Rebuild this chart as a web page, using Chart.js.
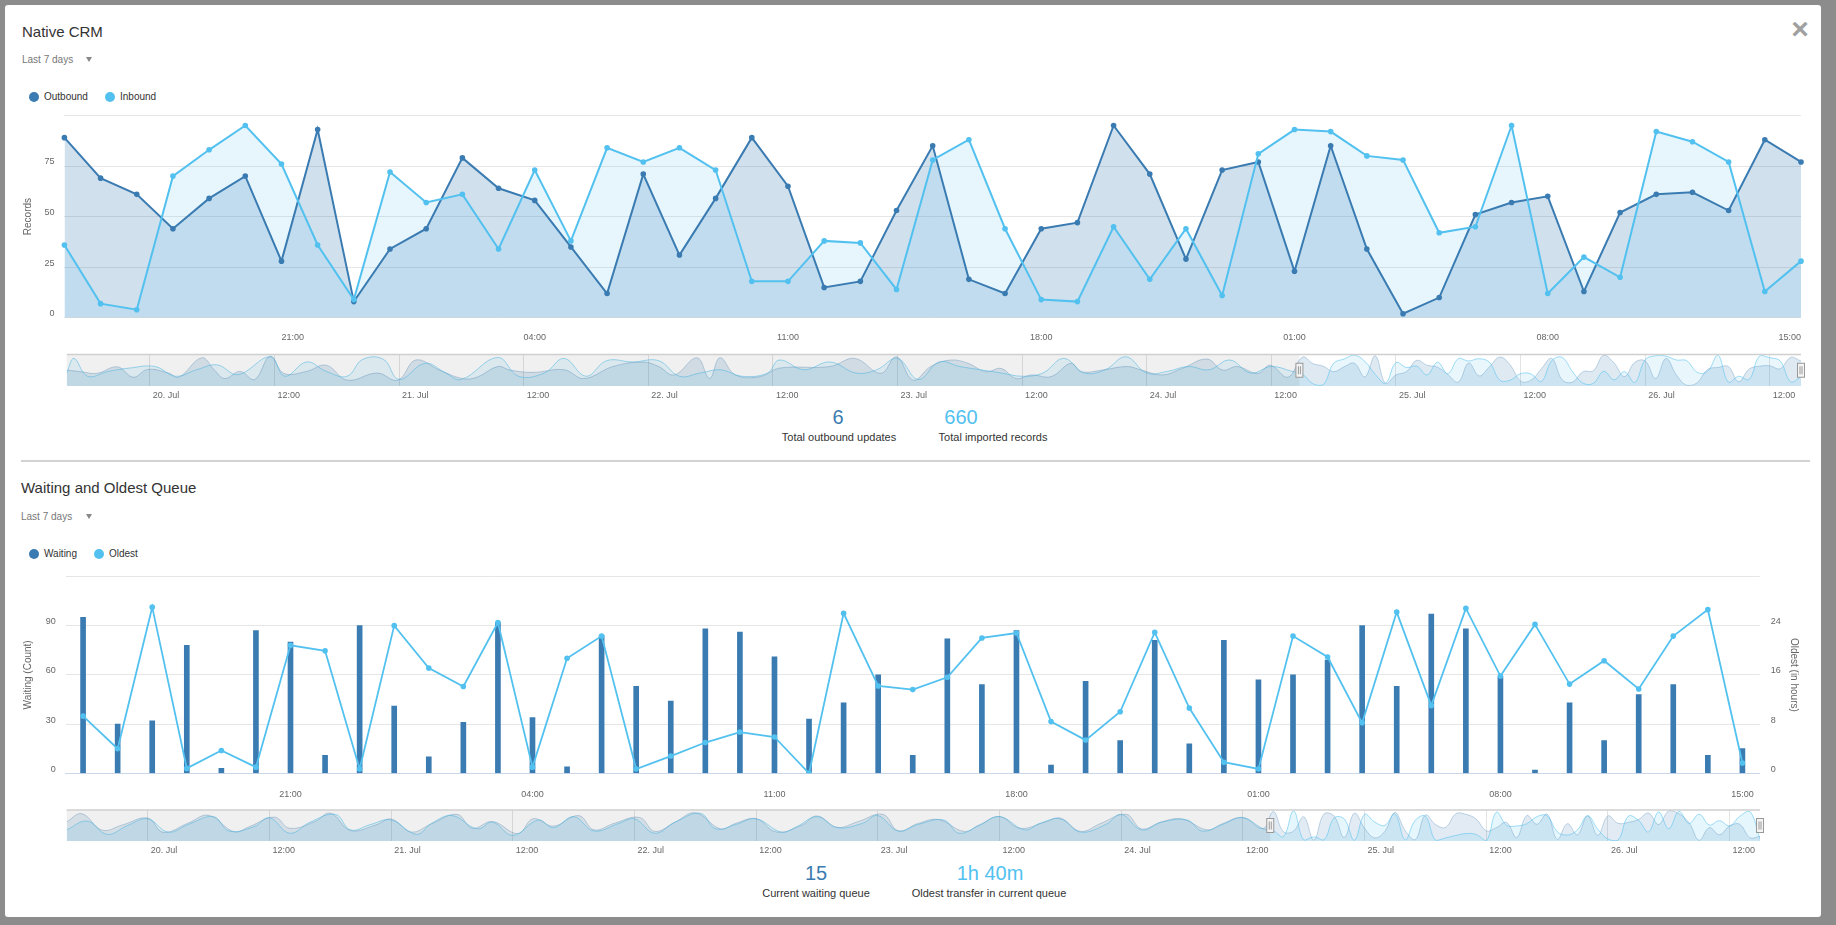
<!DOCTYPE html>
<html><head><meta charset="utf-8">
<script src="https://cdn.jsdelivr.net/npm/chart.js@4.4.1/dist/chart.umd.min.js"></script>
<style>
html,body{margin:0;padding:0;}
body{width:1836px;height:925px;background:#8c8c8c;position:relative;overflow:hidden;font-family:"Liberation Sans",Arial,Helvetica,sans-serif;}
#panel{position:absolute;left:5px;top:5px;width:1816px;height:912px;background:#fff;border-radius:3px;}
.t{position:absolute;white-space:nowrap;line-height:1;}
.lt{transform:translateY(-50%);}
.ct{transform:translate(-50%,-50%);}
.title{font-size:15px;color:#333;}
.range{font-size:10px;color:#777;}
.tri{position:absolute;width:0;height:0;border-left:3.5px solid transparent;border-right:3.5px solid transparent;border-top:5px solid #888;}
.dot{position:absolute;width:10px;height:10px;border-radius:50%;transform:translate(-50%,-50%);}
.leg{font-size:10px;color:#333;}
.num{font-size:20px;}
.lab{font-size:11px;color:#333;}
canvas{position:absolute;left:0;}
#sep{position:absolute;left:21px;top:460px;width:1789px;height:2px;background:#d2d2d2;}
</style>
</head><body>
<div id="panel"></div>
<div id="sep"></div>

<div class="t lt title" style="left:22px;top:31px;">Native CRM</div>
<div class="t lt range" style="left:22px;top:60px;">Last 7 days</div>
<div class="tri" style="left:86px;top:57px;"></div>
<div class="dot" style="left:34px;top:97px;background:#3a7bb1;"></div>
<div class="t lt leg" style="left:44px;top:97px;">Outbound</div>
<div class="dot" style="left:110px;top:97px;background:#52c1ef;"></div>
<div class="t lt leg" style="left:120px;top:97px;">Inbound</div>
<div class="t ct" style="left:1800px;top:29px;font-size:30px;font-weight:bold;color:#a0a0a0;">×</div>

<div class="t ct num" style="left:838px;top:417px;color:#3a7bb1;">6</div>
<div class="t ct lab" style="left:839px;top:437px;">Total outbound updates</div>
<div class="t ct num" style="left:961px;top:417px;color:#52c1ef;">660</div>
<div class="t ct lab" style="left:993px;top:437px;">Total imported records</div>

<div class="t lt title" style="left:21px;top:487px;">Waiting and Oldest Queue</div>
<div class="t lt range" style="left:21px;top:517px;">Last 7 days</div>
<div class="tri" style="left:86px;top:514px;"></div>
<div class="dot" style="left:34px;top:554px;background:#3a7bb1;"></div>
<div class="t lt leg" style="left:44px;top:554px;">Waiting</div>
<div class="dot" style="left:98.5px;top:554px;background:#52c1ef;"></div>
<div class="t lt leg" style="left:109px;top:554px;">Oldest</div>

<div class="t ct num" style="left:816px;top:873px;color:#3a7bb1;">15</div>
<div class="t ct lab" style="left:816px;top:893px;">Current waiting queue</div>
<div class="t ct num" style="left:990px;top:873px;color:#52c1ef;">1h 40m</div>
<div class="t ct lab" style="left:989px;top:893px;">Oldest transfer in current queue</div>

<canvas id="c1" width="1836" height="250" style="top:100px"></canvas>
<canvas id="n1" width="1836" height="62" style="top:348px"></canvas>
<canvas id="c2" width="1836" height="250" style="top:560px"></canvas>
<canvas id="n2" width="1836" height="62" style="top:804px"></canvas>

<script>
// ---------- data ----------
const timeLabels = ["15:00","16:00","17:00","18:00","19:00","20:00","21:00","22:00","23:00","00:00","01:00","02:00","03:00","04:00","05:00","06:00","07:00","08:00","09:00","10:00","11:00","12:00","13:00","14:00","15:00","16:00","17:00","18:00","19:00","20:00","21:00","22:00","23:00","00:00","01:00","02:00","03:00","04:00","05:00","06:00","07:00","08:00","09:00","10:00","11:00","12:00","13:00","14:00","15:00"];
const outbound = [89,69,61,44,59,70,28,93,8,34,44,79,64,58,35,12,71,31,59,89,65,15,18,53,85,19,12,44,47,95,71,29,73,77,23,85,34,2,10,51,57,60,13,52,61,62,53,88,77];
const inbound  = [36,7,4,70,83,95,76,36,9,72,57,61,34,73,38,84,77,84,73,18,18,38,37,14,78,88,44,9,8,45,19,44,11,81,93,92,80,78,42,45,95,12,30,20,92,87,77,13,28];
const waiting  = [95,30,32,78,3,87,80,11,90,41,10,31,92,34,4,84,53,44,88,86,71,33,43,60,11,82,54,87,5,56,20,81,18,81,57,60,69,90,53,97,88,59,2,43,20,48,54,11,15];
const oldest   = [9.3,4,27,0.8,3.7,1,20.8,19.9,0.7,24,17.1,14.1,24.5,1,18.7,22.3,0.7,2.8,5,6.7,5.9,0,26,14.2,13.6,15.6,22,22.8,8.4,5.4,10,22.9,10.6,1.8,0.7,22.3,18.9,8.2,26.2,11,26.8,15.8,24.2,14.5,18.3,13.7,22.3,26.6,1.67];
const recordTicks = [0,25,50,75,100];
const navTickHours = [0,12,24,36,48,60,72,84,96,108,120,132,144,156];
const navTickLabels = ["20. Jul","12:00","21. Jul","12:00","22. Jul","12:00","23. Jul","12:00","24. Jul","12:00","25. Jul","12:00","26. Jul","12:00"];
// navigator history before the zoomed window: [hours after 20 Jul 00:00, value], estimated from the navigator strip
const navOutHistory = [[-8,49],[-6.6,44],[-5.1,39],[-3.1,59],[-1.6,27],[-0.2,51],[1.8,40],[2.8,27],[5,87],[6.2,50],[7.2,23],[8.7,45],[10.1,20],[11.6,92],[12.9,39],[15.1,45],[17,64],[19,18],[21.9,40],[23.9,18],[25.6,80],[27.9,49],[30.1,23],[31.5,27],[33.5,60],[34.7,49],[36.9,42],[39.9,50],[41.8,23],[44.6,60],[47.5,74],[49,60],[50.5,34],[52.7,87],[53.9,23],[54.9,87],[56.4,34],[58.8,29],[60.6,55],[65.5,60],[67.9,85],[70.4,39],[71.9,90],[73.5,18],[75.2,60],[77.1,80],[78.8,70],[80.5,44],[82,54],[83.4,23],[84.9,34],[86.8,29],[88.7,70],[89.7,44],[91.7,49],[94.1,60],[95.5,49],[97.5,34],[99.4,54],[101.8,83],[103.3,49],[104.7,60],[106.7,39],[107.9,64],[109.6,27]];
const navInHistory = [[-8,40],[-7.3,85],[-6,30],[-4,45],[-2,55],[0.5,60],[2.5,30],[4.5,50],[6.5,65],[8.5,35],[11.6,90],[13,30],[15.1,74],[17,45],[19,30],[20.5,82],[22.5,82],[24,20],[26.5,70],[28.5,40],[30,20],[33.5,88],[35.5,30],[38,40],[39.9,85],[42,30],[44,78],[46.5,74],[49,78],[51,30],[53,40],[55,50],[57,30],[59.5,40],[60.6,80],[63,50],[65.5,74],[68,40],[70,50],[72,85],[74,20],[76,74],[78,60],[80,50],[82,40],[84,30],[86,40],[88,85],[90,40],[92,50],[94,90],[96,40],[98,45],[100,60],[102,50],[104,80],[106,40],[108,60],[110,45]];
const navWaitHistory = [[-8,62],[-6.5,88],[-4.5,35],[-2.5,52],[0,74],[1.5,28],[4,58],[6,83],[8.5,30],[10,46],[12.5,77],[14,41],[16.5,63],[18,90],[20,34],[22.5,52],[24,71],[26,29],[28,56],[30.5,86],[32,41],[34,63],[36.5,24],[38,72],[40,48],[42.5,82],[44,36],[46,57],[48.5,76],[50,31],[52,61],[54,91],[56.5,39],[58,57],[60,72],[62,29],[64.5,51],[66,81],[68,44],[70,62],[72.5,86],[74,33],[76,57],[78,69],[80.5,31],[82,52],[84,79],[86,41],[88.5,61],[90,74],[92,31],[94,57],[96.5,86],[98,39],[100,62],[102,71],[104.5,36],[106,56],[108,76],[110,40]];
const navOldHistory = [[-8,10],[-6,18],[-4,6],[-2,14],[0,20],[2,8],[4,15],[6.5,22],[8,9],[10.5,13],[12,21],[14,7],[16,17],[18.5,24],[20,10],[22,15],[24,19],[26.5,6],[28,16],[30,23],[32.5,11],[34,17],[36,5],[38.5,19],[40,12],[42,22],[44,9],[46.5,16],[48,20],[50,7],[52,17],[54.5,25],[56,11],[58,15],[60,20],[62.5,8],[64,13],[66,22],[68,12],[70.5,16],[72,23],[74,9],[76,15],[78.5,19],[80,7],[82,14],[84,22],[86.5,10],[88,16],[90,20],[92,8],[94.5,15],[96,24],[98,10],[100,17],[102.5,19],[104,9],[106,15],[108,21],[110,11]];
const windowStartHour = 111;

const C_OUT = '#3a7bb1', C_IN = '#52c1ef';

Chart.defaults.font.family = '"Liberation Sans", Arial, Helvetica, sans-serif';
Chart.defaults.color = '#666';
Chart.defaults.animation = false;
Chart.defaults.plugins.legend.display = false;
Chart.defaults.plugins.tooltip.enabled = false;

const showTick = i => i >= 6 && (i - 6) % 7 === 0;

// ---------- chart 1 ----------
new Chart(document.getElementById('c1'), {
  type: 'line',
  data: { labels: timeLabels, datasets: [
    { label: 'Outbound', data: outbound, order: 1, borderColor: C_OUT, backgroundColor: 'rgba(58,123,176,0.23)', fill: 'origin', borderWidth: 2, pointRadius: 2.8, pointBackgroundColor: C_OUT, pointBorderWidth: 0, tension: 0 },
    { label: 'Inbound', data: inbound, order: 0, borderColor: C_IN, backgroundColor: 'rgba(82,193,239,0.14)', fill: 'origin', borderWidth: 2, pointRadius: 2.8, pointBackgroundColor: C_IN, pointBorderWidth: 0, tension: 0 }
  ]},
  options: {
    responsive: false,
    layout: { padding: { top: 15.3, right: 35, left: 0, bottom: 0 } },
    plugins: { filler: { drawTime: 'beforeDatasetsDraw' } },
    scales: {
      x: { grid: { display: false }, border: { display: false },
           ticks: { autoSkip: false, align: 'inner', maxRotation: 0, minRotation: 0, padding: 6, font: { size: 9 }, color: '#666',
                    callback: (v, i) => showTick(i) ? timeLabels[i] : null },
           afterFit: s => { s.height = 32.2; } },
      y: { min: 0, max: 100, afterBuildTicks: s => { s.ticks = recordTicks.map(v => ({ value: v })); },
           ticks: { padding: 10, labelOffset: -4, font: { size: 9 }, color: '#666', callback: v => v === 100 ? '' : v },
           grid: { color: '#e6e6e6', drawTicks: false }, border: { display: false },
           title: { display: true, text: 'Records', font: { size: 10 }, color: '#666', padding: { top: 22, bottom: 0 } },
           afterFit: s => { s.width = 64.4; } }
    }
  }
});

// ---------- chart 2 ----------
new Chart(document.getElementById('c2'), {
  data: { labels: timeLabels, datasets: [
    { type: 'line', label: 'Oldest', data: oldest, yAxisID: 'y2', order: 0, borderColor: C_IN, backgroundColor: C_IN, borderWidth: 1.8, pointRadius: 2.8, pointBackgroundColor: C_IN, pointBorderWidth: 0, tension: 0, fill: false },
    { type: 'bar', label: 'Waiting', data: waiting, yAxisID: 'y', order: 1, backgroundColor: C_OUT, barThickness: 5 }
  ]},
  options: {
    responsive: false,
    layout: { padding: { top: 12.6, right: 0, left: 0, bottom: 0 } },
    scales: {
      x: { grid: { display: false }, border: { display: true, color: '#ccd6eb', width: 1 },
           ticks: { autoSkip: false, maxRotation: 0, minRotation: 0, padding: 7.5, font: { size: 9 }, color: '#666',
                    callback: (v, i) => showTick(i) ? timeLabels[i] : null },
           afterFit: s => { s.height = 36.7; } },
      y: { position: 'left', min: 0, max: 120, ticks: { stepSize: 30, padding: 10, labelOffset: -4, font: { size: 9 }, color: '#666', callback: v => v === 120 ? '' : v },
           grid: { color: '#e6e6e6', drawTicks: false }, border: { display: false },
           title: { display: true, text: 'Waiting (Count)', font: { size: 10 }, color: '#666', padding: { top: 22, bottom: 0 } },
           afterFit: s => { s.width = 65.8; } },
      y2: { position: 'right', min: 0, max: 32, ticks: { stepSize: 8, padding: 11, labelOffset: -4, font: { size: 9 }, color: '#666', callback: v => v === 32 ? '' : v },
           grid: { display: false, drawTicks: false }, border: { display: false },
           title: { display: true, text: 'Oldest (in hours)', font: { size: 10 }, color: '#666', padding: { top: 36, bottom: 0 } },
           afterFit: s => { s.width = 76.3; } }
    }
  }
});

// ---------- navigators ----------
const navMask = {
  id: 'navMask',
  afterDatasetsDraw(chart, args, o) {
    const { ctx, chartArea: a, scales: { x } } = chart;
    const xs = x.getPixelForValue(o.selStart);
    ctx.save();
    ctx.fillStyle = 'rgba(0,0,0,0.06)';
    ctx.fillRect(a.left, a.top, xs - a.left, a.bottom - a.top);
    ctx.strokeStyle = '#cfcfcf'; ctx.lineWidth = 1.5;
    ctx.beginPath(); ctx.moveTo(a.left, a.top); ctx.lineTo(a.right, a.top); ctx.stroke();
    const cy = (a.top + a.bottom) / 2;
    [xs, a.right].forEach(hx => {
      ctx.fillStyle = '#f4f4f4'; ctx.strokeStyle = '#999'; ctx.lineWidth = 1;
      ctx.fillRect(hx - 3.5, cy - 7, 7, 14); ctx.strokeRect(hx - 3.5, cy - 7, 7, 14);
      ctx.beginPath(); ctx.moveTo(hx - 1, cy - 4); ctx.lineTo(hx - 1, cy + 4); ctx.moveTo(hx + 1, cy - 4); ctx.lineTo(hx + 1, cy + 4); ctx.stroke();
    });
    ctx.restore();
  }
};

function navConfig(datasets, yMax, y2Max, padTop, padRight, xHeight) {
  return {
    type: 'line',
    data: { datasets },
    options: {
      responsive: false, parsing: false,
      layout: { padding: { top: padTop, right: padRight, left: 66.7, bottom: 0 } },
      elements: { point: { radius: 0 }, line: { tension: 0.4, borderWidth: 1 } },
      plugins: { navMask: { selStart: windowStartHour - 0.3 }, filler: { drawTime: 'beforeDatasetsDraw' } },
      scales: {
        x: { type: 'linear', min: -8, max: 159,
             afterBuildTicks: s => { s.ticks = navTickHours.map(v => ({ value: v })); },
             grid: { color: '#e3e3e3', drawTicks: false }, border: { display: false },
             ticks: { align: 'start', labelOffset: 3, padding: 4, maxRotation: 0, minRotation: 0, autoSkip: false, font: { size: 9 }, color: '#666',
                      callback: (v, i) => navTickLabels[i] },
             afterFit: s => { s.height = xHeight; } },
        y: { display: false, min: 0, max: yMax },
        y2: { display: false, min: 0, max: y2Max }
      }
    },
    plugins: [navMask]
  };
}
const toWindow = arr => arr.map((v, i) => ({ x: windowStartHour + i, y: v }));
const hist = arr => arr.map(p => ({ x: p[0], y: p[1] }));

new Chart(document.getElementById('n1'), navConfig([
  { data: hist(navOutHistory).concat(toWindow(outbound)), yAxisID: 'y', order: 1, borderColor: 'rgba(58,123,176,0.3)', backgroundColor: 'rgba(58,123,176,0.17)', fill: 'origin' },
  { data: hist(navInHistory).concat(toWindow(inbound)), yAxisID: 'y', order: 0, borderColor: 'rgba(82,193,239,0.55)', backgroundColor: 'rgba(82,193,239,0.13)', fill: 'origin' }
], 97, 97, 6.5, 35, 24));

new Chart(document.getElementById('n2'), navConfig([
  { data: hist(navWaitHistory).concat(toWindow(waiting)), yAxisID: 'y', order: 1, borderColor: 'rgba(58,123,176,0.3)', backgroundColor: 'rgba(58,123,176,0.15)', fill: 'origin' },
  { data: hist(navOldHistory).concat(toWindow(oldest)), yAxisID: 'y2', order: 0, borderColor: 'rgba(82,193,239,0.55)', backgroundColor: 'rgba(82,193,239,0.15)', fill: 'origin' }
], 100, 28, 6, 76, 25));
</script>
</body></html>
